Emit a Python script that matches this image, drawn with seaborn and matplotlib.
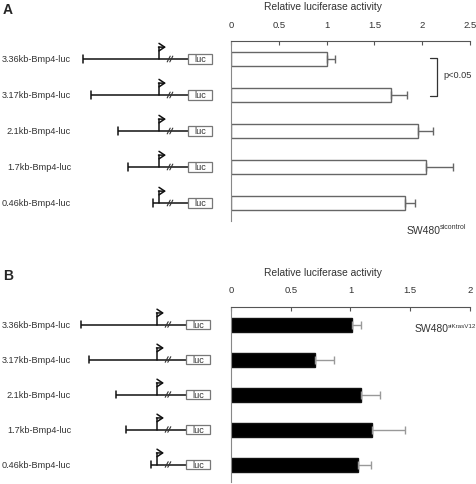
import numpy as np
import pandas as pd
import matplotlib
matplotlib.use("Agg")
import matplotlib.pyplot as plt
import seaborn as sns

# ---- data ----
constructs = ["3.36kb-Bmp4-luc", "3.17kb-Bmp4-luc", "2.1kb-Bmp4-luc", "1.7kb-Bmp4-luc", "0.46kb-Bmp4-luc"]
ctrl_vals = [1.00, 1.67, 1.96, 2.04, 1.82]
ctrl_err = [0.09, 0.17, 0.15, 0.28, 0.10]
kras_vals = [1.01, 0.70, 1.09, 1.18, 1.065]
kras_err = [0.08, 0.16, 0.16, 0.28, 0.105]
ctrl_ticks = [0, 0.5, 1, 1.5, 2, 2.5]
kras_ticks = [0, 0.5, 1, 1.5, 2]
ctrl_ticklabels = ["0", "0.5", "1", "1.5", "2", "2.5"]
kras_ticklabels = ["0", "0.5", "1", "1.5", "2"]
# upstream extent of each construct in the schematic (drawing units)
schem_start = [83, 91, 118, 128, 153]

sns.set_theme(style="white")
plt.rcParams["font.family"] = ["Liberation Sans", "DejaVu Sans"]

W, H = 477, 485
fig = plt.figure(figsize=(W / 100, H / 100), dpi=100)

def fx(px):
    return px / W

def fy(py):
    return 1 - py / H

def panel(top, bottom, vals, errs, ticks, ticklabels, xmax, fill, edge, errcol,
          cell_sup, cell_pos, sup_fs, shift):
    ax = fig.add_axes([fx(231), fy(bottom), fx(470) - fx(231), fy(top) - fy(bottom)])
    df = pd.DataFrame({"construct": constructs, "value": vals})
    sns.barplot(data=df, y="construct", x="value", orient="h", ax=ax,
                color=fill, edgecolor=edge, linewidth=1.0, width=0.4,
                errorbar=None, saturation=1)
    ax.errorbar(vals, np.arange(len(vals)), xerr=[np.zeros(len(errs)), errs],
                fmt="none", ecolor=errcol, elinewidth=1.0, capsize=3, capthick=1.0)
    ax.set_xlim(0, xmax)
    ax.set_ylim(len(vals) - 0.5, -0.5)
    ax.xaxis.tick_top()
    ax.set_xticks(ticks)
    ax.set_xticklabels(ticklabels, fontsize=6.8, color="#333333")
    ax.tick_params(axis="x", direction="in", length=3, width=0.8, color="#555555", pad=9)
    ax.set_yticks(np.arange(len(vals) - 1) + 0.5)
    ax.set_yticklabels([])
    ax.tick_params(axis="y", direction="out", length=2, width=0.8, color="#777777")
    ax.set_xlabel("")
    ax.set_ylabel("")
    for s in ["right", "bottom"]:
        ax.spines[s].set_visible(False)
    ax.spines["top"].set_color("#555555")
    ax.spines["top"].set_linewidth(0.8)
    ax.spines["left"].set_color("#888888")
    ax.spines["left"].set_linewidth(0.8)
    fig.text(fx(323), fy(top - 35), "Relative luciferase activity", ha="center", va="center",
             fontsize=7.4, color="#333333")
    # cell line label with superscript
    cx, cy = cell_pos
    fig.text(fx(cx), fy(cy), "SW480", ha="left", va="center", fontsize=7.5, color="#333333")
    fig.text(fx(cx + 33), fy(cy - 3), cell_sup, ha="left", va="center",
             fontsize=sup_fs, color="#333333")

    # schematic axes sharing y
    axs = fig.add_axes([0, fy(bottom), fx(231), fy(top) - fy(bottom)], sharey=ax)
    axs.set_xlim(0, 231)
    axs.axis("off")
    prom = 159 + shift
    box_l, box_r = 188 + shift, 212 + shift
    for i, (lab, st) in enumerate(zip(constructs, schem_start)):
        y = i
        st = st + shift
        axs.text(71, y, lab, ha="right", va="center", fontsize=6.6, color="#333333")
        axs.plot([st, box_l], [y, y], color="#111111", lw=1.1, solid_capstyle="butt")
        axs.plot([st, st], [y - 0.1, y + 0.1], color="#111111", lw=1.1)
        axs.plot([prom, prom], [y, y - 0.33], color="#111111", lw=1.1)
        axs.annotate("", xy=(prom + 7, y - 0.33), xytext=(prom - 0.5, y - 0.33),
                     arrowprops=dict(arrowstyle="->,head_length=0.45,head_width=0.3",
                                     color="#111111", lw=1.1,
                                     shrinkA=0, shrinkB=0, mutation_scale=9))
        # break marks //
        for dx in (-1.3, 1.3):
            axs.plot([prom + 9.5 + dx, prom + 12.5 + dx], [y + 0.08, y - 0.08],
                     color="#333333", lw=0.8)
        axs.add_patch(plt.Rectangle((box_l, y - 0.13), box_r - box_l, 0.26,
                                    facecolor="white", edgecolor="#777777", lw=0.9, zorder=3))
        axs.text((box_l + box_r) / 2, y, "luc", ha="center", va="center",
                 fontsize=6.6, color="#333333", zorder=4)
    return ax

axA = panel(42, 222, ctrl_vals, ctrl_err, ctrl_ticks, ctrl_ticklabels, 2.5,
            "white", "#666666", "#666666", "sicontrol", (407, 231), 5.0, 0)
axB = panel(308, 483, kras_vals, kras_err, kras_ticks, kras_ticklabels, 2.0,
            "black", "#111111", "#999999", "siKrasV12", (415, 329), 4.5, -2)

# significance bracket in panel A
fig.add_artist(plt.Line2D([fx(430), fx(437), fx(437), fx(430)],
                          [fy(59), fy(59), fy(97), fy(97)], color="#333333", lw=0.9))
fig.text(fx(443), fy(76), "p<0.05", ha="left", va="center", fontsize=6.6, color="#333333")

fig.text(fx(3), fy(10), "A", fontsize=10, fontweight="bold", ha="left", va="center")
fig.text(fx(3), fy(276), "B", fontsize=10, fontweight="bold", ha="left", va="center")

fig.savefig("out.png", dpi=100)
